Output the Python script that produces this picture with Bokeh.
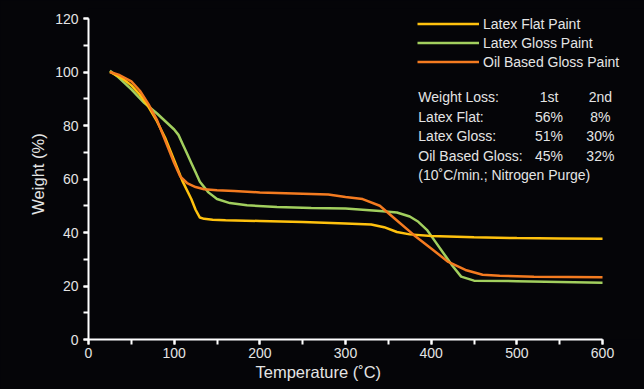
from bokeh.plotting import figure
from bokeh.models import Range1d, SingleIntervalTicker, Legend, LegendItem, Title
from bokeh.core.properties import value
from bokeh.embed import file_html
from bokeh.resources import INLINE

# ---- data ----
temp_flat = [25, 40, 50, 60, 70, 80, 90, 100, 110, 120, 125, 130, 135, 145, 160, 200, 250, 300, 330, 345, 360, 375, 400, 450, 500, 550, 600]
wt_flat = [100, 97.5, 95, 91.5, 87, 81.5, 75, 67, 59, 52.5, 48.5, 45.6, 45.1, 44.8, 44.6, 44.3, 43.9, 43.4, 43.0, 42.0, 40.2, 39.3, 38.7, 38.2, 37.9, 37.8, 37.7]

temp_gloss = [25, 35, 50, 65, 80, 90, 100, 105, 110, 115, 120, 125, 130, 140, 150, 165, 185, 220, 260, 300, 340, 360, 375, 385, 395, 405, 415, 425, 435, 450, 500, 600]
wt_gloss = [100.5, 98, 93.5, 88.5, 84.5, 81.5, 78.5, 76.5, 73, 69.5, 66, 62.5, 59, 55, 52.5, 51, 50.2, 49.5, 49.2, 49, 48, 47.5, 46, 44, 41, 36.5, 32, 27.5, 23.5, 22, 21.8, 21.2]

temp_oil = [25, 35, 50, 60, 70, 80, 90, 100, 107, 115, 125, 135, 150, 170, 200, 250, 280, 300, 320, 340, 360, 380, 400, 420, 440, 460, 480, 520, 600]
wt_oil = [100, 99, 96.5, 93, 88, 82, 74, 66, 61, 58.5, 57, 56.2, 55.8, 55.5, 55, 54.5, 54.2, 53.3, 52.5, 50, 44.5, 39, 34, 29, 26, 24.2, 23.8, 23.5, 23.3]

series_names = ["Latex Flat Paint", "Latex Gloss Paint", "Oil Based Gloss Paint"]

table_rows = ["Weight Loss:", "Latex Flat:", "Latex Gloss:", "Oil Based Gloss:"]
first_loss = ["1st", "56%", "51%", "45%"]
second_loss = ["2nd", "8%", "30%", "32%"]
table_note = "(10\u02daC/min.; Nitrogen Purge)"

x_title = "Temperature (\u02daC)"
y_title = "Weight (%)"

# ---- styles ----
FONT = "Liberation Sans"
TXT = "#e4e4e4"
BG = "#050508"
YELLOW = "#ffc20e"
GREEN = "#a2cf5e"
ORANGE = "#f47b20"
SMALL = "14px"
BIG = "16.5px"

p = figure(width=644, height=389, output_backend="svg", toolbar_location=None,
           x_range=Range1d(0, 649), y_range=Range1d(0, 123.74),
           min_border_left=88, min_border_right=0, min_border_top=8, min_border_bottom=50,
           background_fill_color=BG, border_fill_color=BG, outline_line_color=None)
p.grid.visible = False

p.xaxis.ticker = SingleIntervalTicker(interval=100, num_minor_ticks=2)
p.yaxis.ticker = SingleIntervalTicker(interval=20, num_minor_ticks=2)
p.xaxis.bounds = (0, 600)
p.yaxis.bounds = (0, 120)
for ax in (p.xaxis, p.yaxis):
    ax.axis_line_color = "white"
    ax.axis_line_width = 2
    ax.major_tick_line_color = "white"
    ax.major_tick_line_width = 2
    ax.minor_tick_line_color = "white"
    ax.minor_tick_line_width = 2
    ax.major_tick_in = 0
    ax.major_tick_out = 5
    ax.minor_tick_in = 0
    ax.minor_tick_out = 5
    ax.major_label_text_color = TXT
    ax.major_label_text_font = FONT
    ax.major_label_text_font_size = SMALL
    ax.axis_label_text_color = TXT
    ax.axis_label_text_font = FONT
    ax.axis_label_text_font_size = BIG
    ax.axis_label_text_font_style = "normal"
p.xaxis.major_label_standoff = 3
p.yaxis.major_label_standoff = 5
p.yaxis.axis_label = y_title
p.yaxis.axis_label_standoff = 5

# x-axis title placed under the 0-600 span (the frame runs on to the right edge)
p.add_layout(Title(text=x_title, align="left", offset=167, standoff=0,
                   text_color=TXT, text_font=FONT, text_font_size=BIG,
                   text_font_style="normal"), "below")

r_gloss = p.line(temp_gloss, wt_gloss, line_color=GREEN, line_width=2.5)
r_flat = p.line(temp_flat, wt_flat, line_color=YELLOW, line_width=2.5)
r_oil = p.line(temp_oil, wt_oil, line_color=ORANGE, line_width=2.5)

legend = Legend(items=[LegendItem(label=series_names[0], renderers=[r_flat]),
                       LegendItem(label=series_names[1], renderers=[r_gloss]),
                       LegendItem(label=series_names[2], renderers=[r_oil])],
                location=(329, 268), glyph_width=62, glyph_height=19, label_height=19,
                spacing=0, padding=0, margin=0, label_standoff=4,
                background_fill_alpha=0, border_line_alpha=0,
                label_text_color=TXT, label_text_font=FONT, label_text_font_size=SMALL)
p.add_layout(legend)

# table of weight losses
x_lab, x_c1, x_c2 = 385.0, 537.5, 597.5
y_top, step = 90.6, 7.29
ys = [y_top - i * step for i in range(len(table_rows))]
common = dict(text_color=TXT, text_font=value(FONT), text_font_size=SMALL, text_baseline="middle")
p.text(x=[x_lab] * len(table_rows), y=ys, text=table_rows, text_align="left", **common)
p.text(x=[x_c1] * len(first_loss), y=ys, text=first_loss, text_align="center", **common)
p.text(x=[x_c2] * len(second_loss), y=ys, text=second_loss, text_align="center", **common)
p.text(x=[x_lab], y=[y_top - 4 * step], text=[table_note], text_align="left", **common)

html = file_html(p, INLINE)
html = html.replace("<head>", "<head><style>html,body{background:%s;}</style>" % BG, 1)
open("out.html", "w").write(html)
